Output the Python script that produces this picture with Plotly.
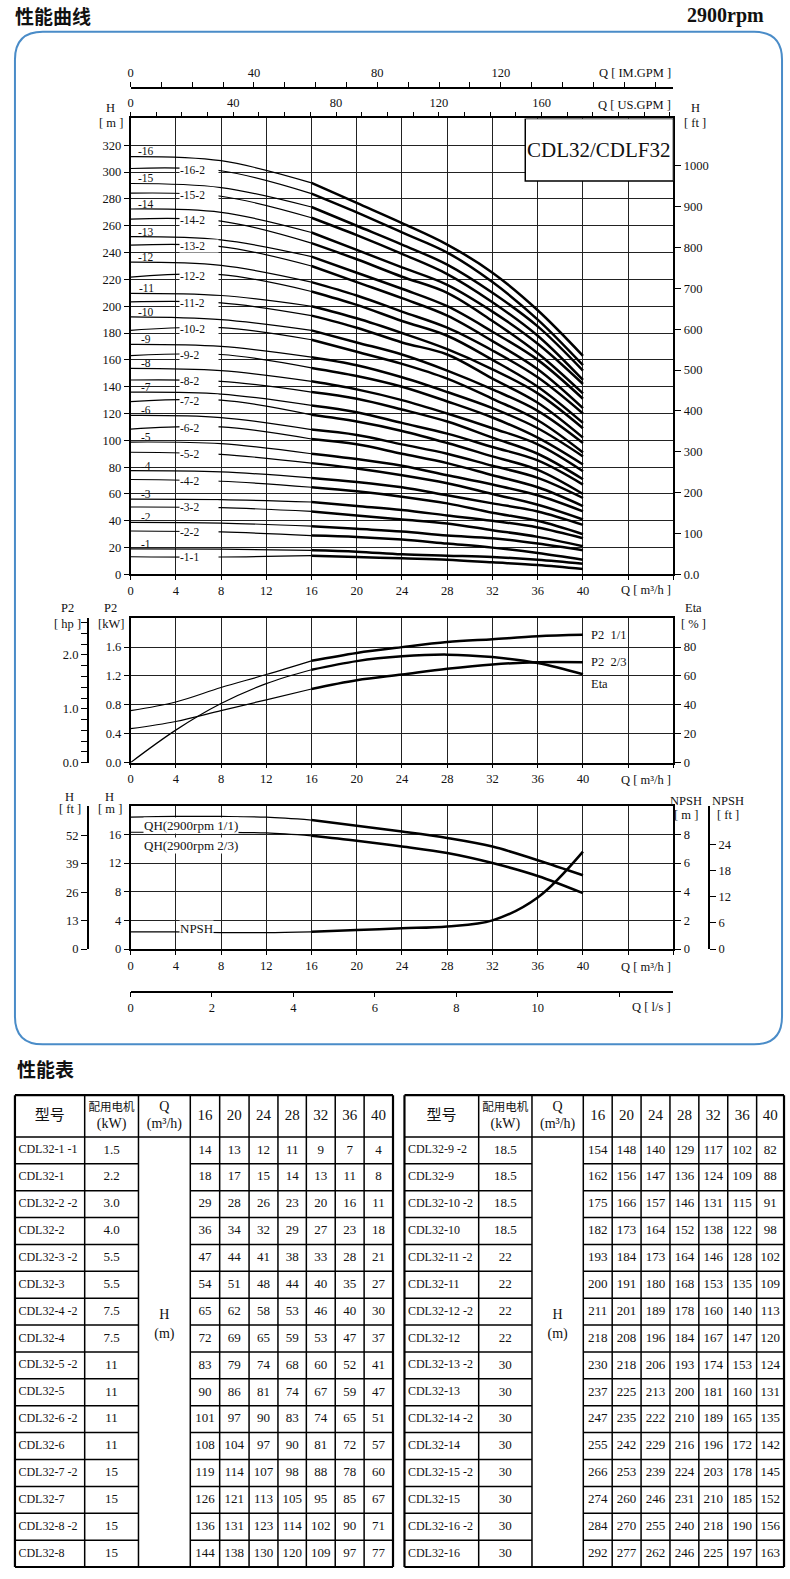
import plotly.graph_objects as go

# ---------------- data ----------------
Q_TABLE = [16, 20, 24, 28, 32, 36, 40]
Q_LOW = [0, 8, 16]

MODELS_1 = ["CDL32-1 -1", "CDL32-1", "CDL32-2 -2", "CDL32-2", "CDL32-3 -2", "CDL32-3",
            "CDL32-4 -2", "CDL32-4", "CDL32-5 -2", "CDL32-5", "CDL32-6 -2", "CDL32-6",
            "CDL32-7 -2", "CDL32-7", "CDL32-8 -2", "CDL32-8"]
MOTOR_1 = ["1.5", "2.2", "3.0", "4.0", "5.5", "5.5", "7.5", "7.5",
           "11", "11", "11", "11", "15", "15", "15", "15"]
HEAD_1 = [
    [14, 13, 12, 11, 9, 7, 4],
    [18, 17, 15, 14, 13, 11, 8],
    [29, 28, 26, 23, 20, 16, 11],
    [36, 34, 32, 29, 27, 23, 18],
    [47, 44, 41, 38, 33, 28, 21],
    [54, 51, 48, 44, 40, 35, 27],
    [65, 62, 58, 53, 46, 40, 30],
    [72, 69, 65, 59, 53, 47, 37],
    [83, 79, 74, 68, 60, 52, 41],
    [90, 86, 81, 74, 67, 59, 47],
    [101, 97, 90, 83, 74, 65, 51],
    [108, 104, 97, 90, 81, 72, 57],
    [119, 114, 107, 98, 88, 78, 60],
    [126, 121, 113, 105, 95, 85, 67],
    [136, 131, 123, 114, 102, 90, 71],
    [144, 138, 130, 120, 109, 97, 77],
]
MODELS_2 = ["CDL32-9 -2", "CDL32-9", "CDL32-10 -2", "CDL32-10", "CDL32-11 -2", "CDL32-11",
            "CDL32-12 -2", "CDL32-12", "CDL32-13 -2", "CDL32-13", "CDL32-14 -2", "CDL32-14",
            "CDL32-15 -2", "CDL32-15", "CDL32-16 -2", "CDL32-16"]
MOTOR_2 = ["18.5", "18.5", "18.5", "18.5", "22", "22", "22", "22",
           "30", "30", "30", "30", "30", "30", "30", "30"]
HEAD_2 = [
    [154, 148, 140, 129, 117, 102, 82],
    [162, 156, 147, 136, 124, 109, 88],
    [175, 166, 157, 146, 131, 115, 91],
    [182, 173, 164, 152, 138, 122, 98],
    [193, 184, 173, 164, 146, 128, 102],
    [200, 191, 180, 168, 153, 135, 109],
    [211, 201, 189, 178, 160, 140, 113],
    [218, 208, 196, 184, 167, 147, 120],
    [230, 218, 206, 193, 174, 153, 124],
    [237, 225, 213, 200, 181, 160, 131],
    [247, 235, 222, 210, 189, 165, 135],
    [255, 242, 229, 216, 196, 172, 142],
    [266, 253, 239, 224, 203, 178, 145],
    [274, 260, 246, 231, 210, 185, 152],
    [284, 270, 255, 240, 218, 190, 156],
    [292, 277, 262, 246, 225, 197, 163],
]

CURVE_LABELS = ["-1-1", "-1", "-2-2", "-2", "-3-2", "-3", "-4-2", "-4", "-5-2", "-5",
                "-6-2", "-6", "-7-2", "-7", "-8-2", "-8", "-9-2", "-9", "-10-2", "-10",
                "-11-2", "-11", "-12-2", "-12", "-13-2", "-13", "-14-2", "-14",
                "-15-2", "-15", "-16-2", "-16"]
H_SHUTOFF = [13.2, 19.1, 32.4, 38.8, 50.3, 56.2, 70.8, 77.4, 91.1, 98.7,
             108.4, 118.6, 128.9, 135.9, 145.0, 153.7, 163.1, 171.5, 182.0, 192.0,
             203.2, 209.6, 221.7, 232.9, 245.5, 251.9, 265.0, 272.5,
             284.3, 291.5, 302.7, 311.6]
H_AT8 = [13.0, 18.9, 31.7, 38.3, 49.8, 55.8, 69.5, 76.5, 89.5, 97.5,
         110.0, 117.0, 130.0, 134.5, 144.0, 152.0, 164.0, 170.0, 184.0, 190.0,
         202.5, 208.0, 223.5, 230.5, 244.5, 249.5, 263.5, 270.0,
         282.0, 288.5, 301.0, 308.5]

Q_CURVE = [0, 4, 8, 12, 16, 20, 24, 28, 32, 36, 40]
P2_FULL = [0.72, 0.84, 1.04, 1.22, 1.41, 1.52, 1.60, 1.67, 1.71, 1.75, 1.77]
P2_TWO_THIRDS = [0.47, 0.57, 0.72, 0.87, 1.02, 1.14, 1.22, 1.30, 1.36, 1.39, 1.39]
ETA = [0, 22.5, 40.9, 54.7, 64.3, 70.3, 73.6, 74.8, 73.1, 69.0, 61.2]

QH_FULL = [18.4, 18.5, 18.5, 18.4, 18.0, 17.2, 16.4, 15.5, 14.3, 12.4, 10.3]
QH_TWO_THIRDS = [16.3, 16.3, 16.3, 16.2, 15.8, 15.1, 14.3, 13.4, 12.0, 10.2, 7.8]
NPSH = [1.2, 1.2, 1.15, 1.15, 1.2, 1.33, 1.45, 1.58, 2.0, 3.6, 6.8]

IMGPM_PER_M3H = 3.666
USGPM_PER_M3H = 4.403
FT_PER_M = 3.2808
HP_PER_KW = 1.341
M3H_PER_LS = 3.6

# ---------------- layout helpers ----------------
W, H = 790, 1579


def fx(px):
    return px / W


def fy(py):
    return 1 - py / H


SERIF = "Liberation Serif"
CJK = "Noto Sans CJK SC"
INK = "#111111"
GRID = "#222222"
BLUE = "#4a8cc8"

X_L, X_R = 128, 673
XDOM = [fx(X_L), fx(X_R)]
Q_MAX = 48
H_MAX = 340
KW_MAX = 2.0
HB_MAX = 20

THIN, THICK = 1.2, 2.5

q_ticks = list(range(0, 41, 4))
q_minor = dict(tick0=0, dtick=4, showgrid=True, gridcolor=GRID, gridwidth=1.3,
               ticks="outside", ticklen=4, tickwidth=1.2, tickcolor="black")


def axis(**kw):
    d = dict(showline=True, linecolor="black", linewidth=1.5, ticks="outside", ticklen=5,
             tickwidth=1.2, tickcolor="black",
             tickfont=dict(family=SERIF, size=12.5, color=INK),
             showgrid=False, zeroline=False, fixedrange=True)
    d.update(kw)
    return d


def minor_ticks(step, length):
    return dict(tick0=0, dtick=step, ticks="outside", ticklen=length, tickwidth=1.2,
                tickcolor="black", showgrid=False)


fig = go.Figure()


def line_trace(x, y, xa, ya, width):
    fig.add_trace(go.Scatter(x=x, y=y, xaxis=xa, yaxis=ya, mode="lines",
                             line=dict(color="black", width=width, shape="spline"),
                             hoverinfo="skip", showlegend=False))


def text_trace(xs, ys, texts, size, family=SERIF, pos="middle center"):
    fig.add_trace(go.Scatter(x=xs, y=ys, text=texts, mode="text", textposition=pos,
                             xaxis="x7", yaxis="y10",
                             textfont=dict(family=family, size=size, color=INK),
                             hoverinfo="skip", showlegend=False, cliponaxis=False))


# ---------- top chart: H-Q family ----------
HEADS = HEAD_1 + HEAD_2
annotations = []
for i, lab in enumerate(CURVE_LABELS):
    hv = HEADS[i]
    line_trace(Q_LOW, [H_SHUTOFF[i], H_AT8[i], hv[0]], "x", "y", THIN)
    line_trace(Q_TABLE, hv, "x", "y", THICK)
    if lab.count("-") == 1:
        annotations.append(dict(text=lab, x=1.4, y=H_SHUTOFF[i] + 3.8, xref="x", yref="y",
                                showarrow=False, font=dict(family=SERIF, size=11.5, color=INK),
                                xanchor="center", yanchor="middle"))
    else:
        annotations.append(dict(text=lab, x=4.3, y=(H_SHUTOFF[i] + 2 * H_AT8[i]) / 3,
                                xref="x", yref="y", showarrow=False,
                                font=dict(family=SERIF, size=11.5, color=INK),
                                xanchor="left", yanchor="middle", align="left",
                                bgcolor="white", borderpad=0, width=38))

# ---------- middle chart ----------
line_trace(Q_CURVE[:5], P2_FULL[:5], "x4", "y3", THIN)
line_trace(Q_CURVE[4:], P2_FULL[4:], "x4", "y3", THICK)
line_trace(Q_CURVE[:5], P2_TWO_THIRDS[:5], "x4", "y3", THIN)
line_trace(Q_CURVE[4:], P2_TWO_THIRDS[4:], "x4", "y3", THICK)
line_trace(Q_CURVE[:5], ETA[:5], "x4", "y5", THIN)
line_trace(Q_CURVE[4:], ETA[4:], "x4", "y5", THICK)

# ---------- bottom chart ----------
line_trace(Q_CURVE[:5], QH_FULL[:5], "x5", "y6", THIN)
line_trace(Q_CURVE[4:], QH_FULL[4:], "x5", "y6", THICK)
line_trace(Q_CURVE[:5], QH_TWO_THIRDS[:5], "x5", "y6", THIN)
line_trace(Q_CURVE[4:], QH_TWO_THIRDS[4:], "x5", "y6", THICK)
line_trace(Q_CURVE[:5], NPSH[:5], "x5", "y8", THIN)
line_trace(Q_CURVE[4:], NPSH[4:], "x5", "y8", THICK)

# dummy traces so secondary axes render
for xa, ya in [("x2", "y"), ("x3", "y"), ("x", "y2"), ("x4", "y4"), ("x5", "y7"),
               ("x5", "y9"), ("x6", "y6")]:
    fig.add_trace(go.Scatter(x=[0], y=[0], xaxis=xa, yaxis=ya, mode="markers",
                             marker=dict(size=1, opacity=0), hoverinfo="skip",
                             showlegend=False))

# ---------- tables ----------
TABLE_TOP, HEAD_BOT, ROW_H = 1100, 1142, 27.0
COLS_1 = [12, 82, 136, 188, 217.5, 247, 276, 304.5, 333.5, 362.5, 391.5]
COLS_2 = [403, 477.5, 531, 582.5, 611.5, 640.5, 669.5, 698.5, 727.5, 756.5, 784]
shapes = []


def table(cols, models, motors, heads):
    n = len(models)
    bottom = HEAD_BOT + ROW_H * n
    for k, xv in enumerate(cols):
        w = 2.2 if k in (0, len(cols) - 1) else 1.5
        shapes.append(dict(type="line", xref="x7", yref="y10", x0=xv, x1=xv, y0=TABLE_TOP,
                           y1=bottom, line=dict(color="black", width=w)))
    for yv, w in [(TABLE_TOP, 2.2), (HEAD_BOT, 1.5), (bottom, 2.2)]:
        shapes.append(dict(type="line", xref="x7", yref="y10", x0=cols[0], x1=cols[-1],
                           y0=yv, y1=yv, line=dict(color="black", width=w)))
    for r in range(1, n):
        yv = HEAD_BOT + ROW_H * r
        for a, b in [(cols[0], cols[2]), (cols[3], cols[-1])]:
            shapes.append(dict(type="line", xref="x7", yref="y10", x0=a, x1=b, y0=yv, y1=yv,
                               line=dict(color="black", width=1.5)))
    hy = (TABLE_TOP + HEAD_BOT) / 2
    cen = [(cols[k] + cols[k + 1]) / 2 for k in range(len(cols) - 1)]
    # header
    text_trace([cen[0]], [hy], ["型号"], 15, family=CJK)
    text_trace([cen[1]], [hy - 8], ["配用电机"], 11.5, family=CJK)
    text_trace([cen[1], cen[2], cen[2]], [hy + 8.5, hy - 8.5, hy + 8.5],
               ["(kW)", "Q", "(m³/h)"], 14)
    text_trace(cen[3:], [hy] * len(Q_TABLE), [str(q) for q in Q_TABLE], 15)
    # merged H column
    text_trace([cen[2], cen[2]], [1321, 1340], ["H", "(m)"], 14)
    ys = [HEAD_BOT + ROW_H * (r + 0.5) for r in range(n)]
    text_trace([cols[0] + 3.5] * n, ys, models, 12, pos="middle right")
    xs, yv, tv = [], [], []
    for r in range(n):
        xs.append(cen[1]); yv.append(ys[r]); tv.append(motors[r])
        for c, v in enumerate(heads[r]):
            xs.append(cen[3 + c]); yv.append(ys[r]); tv.append(str(v))
    text_trace(xs, yv, tv, 13)


table(COLS_1, MODELS_1, MOTOR_1, HEAD_1)
table(COLS_2, MODELS_2, MOTOR_2, HEAD_2)

# ---------- decorations ----------


def rrect_path(x0, y0, x1, y1, r):
    return (f"M {fx(x0 + r)},{fy(y0)} L {fx(x1 - r)},{fy(y0)} "
            f"Q {fx(x1)},{fy(y0)} {fx(x1)},{fy(y0 + r)} L {fx(x1)},{fy(y1 - r)} "
            f"Q {fx(x1)},{fy(y1)} {fx(x1 - r)},{fy(y1)} L {fx(x0 + r)},{fy(y1)} "
            f"Q {fx(x0)},{fy(y1)} {fx(x0)},{fy(y1 - r)} L {fx(x0)},{fy(y0 + r)} "
            f"Q {fx(x0)},{fy(y0)} {fx(x0 + r)},{fy(y0)} Z")


shapes.append(dict(type="path", xref="paper", yref="paper", path=rrect_path(12, 32, 782, 1049, 28),
                   line=dict(color=BLUE, width=2), layer="below"))
# model box in top-right of the H-Q chart
shapes.append(dict(type="rect", xref="x", yref="y", x0=34.9, x1=Q_MAX, y0=293.3, y1=H_MAX,
                   fillcolor="white", line=dict(color="black", width=1.5), layer="above"))
annotations.append(dict(text="CDL32/CDLF32", x=41.45, y=316.5, xref="x", yref="y", showarrow=False,
                        font=dict(family=SERIF, size=21, color=INK)))


def pnote(text, px, py, size=12.5, xanchor="center", family=SERIF, bold=False):
    annotations.append(dict(text=text, x=fx(px), y=fy(py), xref="paper", yref="paper",
                            showarrow=False, xanchor=xanchor, yanchor="middle",
                            font=dict(family=family, size=size, color=INK,
                                      weight="bold" if bold else "normal")))


pnote("性能曲线", 10, 16, size=19, xanchor="left", family=CJK, bold=True)
pnote("2900rpm", 766, 16, size=20, xanchor="right", bold=True)
pnote("性能表", 12, 1073, size=19, xanchor="left", family=CJK, bold=True)

pnote("Q [ IM.GPM ]", 673, 73, xanchor="right")
pnote("Q [ US.GPM ]", 673, 105, xanchor="right")
pnote("H", 108, 108)
pnote("[ m ]", 108, 124)
pnote("H", 695, 108)
pnote("[ ft ]", 695, 124)
pnote("Q [ m³/h ]", 673, 593, xanchor="right")
pnote("Q [ m³/h ]", 673, 783, xanchor="right")
pnote("Q [ m³/h ]", 673, 971, xanchor="right")
pnote("Q [ l/s ]", 673, 1011, xanchor="right")
pnote("P2", 65, 611)
pnote("[ hp ]", 65, 627)
pnote("P2", 108, 611)
pnote("[kW]", 108, 627)
pnote("Eta", 693, 611)
pnote("[ % ]", 693, 627)
pnote("H", 67, 801)
pnote("[ ft ]", 67, 813)
pnote("H", 107, 801)
pnote("[ m ]", 107, 813)
pnote("NPSH", 686, 805)
pnote("[ m ]", 686, 819)
pnote("NPSH", 728, 805)
pnote("[ ft ]", 728, 819)

for txt, yy in [("P2  1/1", P2_FULL[-1]), ("P2  2/3", P2_TWO_THIRDS[-1]), ("Eta", 1.09)]:
    annotations.append(dict(text=txt, x=40.5, y=yy, xref="x4", yref="y3", showarrow=False,
                            xanchor="left", yanchor="middle",
                            font=dict(family=SERIF, size=12.5, color=INK)))
for txt, xx, yy, ya in [("QH(2900rpm 1/1)", 5.33, 17.3, "y6"), ("QH(2900rpm 2/3)", 5.33, 14.5, "y6"),
                        ("NPSH", 5.86, 2.94, "y6")]:
    annotations.append(dict(text=txt, x=xx, y=yy, xref="x5", yref=ya, showarrow=False,
                            xanchor="center", yanchor="middle", bgcolor="white", borderpad=0,
                            font=dict(family=SERIF, size=13, color=INK)))

# ---------- axes ----------
im_max = Q_MAX * IMGPM_PER_M3H
us_max = Q_MAX * USGPM_PER_M3H
hp_max = KW_MAX * HP_PER_KW


def q_axis(anchor):
    return axis(domain=XDOM, range=[0, Q_MAX], anchor=anchor, tickvals=q_ticks,
                showgrid=True, gridcolor=GRID, gridwidth=1.3, mirror=True, ticklen=4,
                minor=q_minor)


layout = dict(
    width=W, height=H, margin=dict(l=0, r=0, t=0, b=0), autosize=False,
    paper_bgcolor="white", plot_bgcolor="rgba(0,0,0,0)", showlegend=False,
    shapes=shapes, annotations=annotations,
    # top chart
    xaxis=q_axis("y"),
    yaxis=axis(domain=[fy(577), fy(119)], range=[0, H_MAX], anchor="x",
               tickvals=list(range(0, 321, 20)), showgrid=True, gridcolor=GRID, gridwidth=1.3,
               mirror=True),
    yaxis2=axis(overlaying="y", side="right", anchor="x", range=[0, H_MAX * FT_PER_M],
                tickvals=list(range(0, 1001, 100)),
                ticktext=["0.0"] + [str(v) for v in range(100, 1001, 100)], ticklen=6),
    xaxis2=axis(overlaying="x", side="top", anchor="free", position=fy(88), range=[0, im_max],
                tickvals=[0, 40, 80, 120], ticklen=5, minor=minor_ticks(10, 5)),
    xaxis3=axis(overlaying="x", side="top", anchor="y", range=[0, us_max],
                tickvals=[0, 40, 80, 120, 160], ticklen=5, minor=minor_ticks(10, 5)),
    # middle chart
    xaxis4=q_axis("y3"),
    yaxis3=axis(domain=[fy(766), fy(621)], range=[0, KW_MAX], anchor="x4",
                tickvals=[0, 0.4, 0.8, 1.2, 1.6], ticktext=["0.0", "0.4", "0.8", "1.2", "1.6"],
                showgrid=True, gridcolor=GRID, gridwidth=1.3, mirror=True),
    yaxis4=axis(overlaying="y3", side="left", anchor="free", position=fx(85), range=[0, hp_max],
                tickvals=[0, 1, 2], ticktext=["0.0", "1.0", "2.0"], ticklen=6,
                minor=minor_ticks(0.2, 6)),
    yaxis5=axis(overlaying="y3", side="right", anchor="x4", range=[0, 100],
                tickvals=[0, 20, 40, 60, 80], ticklen=6),
    # bottom chart
    xaxis5=q_axis("y6"),
    yaxis6=axis(domain=[fy(953.3), fy(809.3)], range=[0, HB_MAX], anchor="x5",
                tickvals=[0, 4, 8, 12, 16], showgrid=True, gridcolor=GRID, gridwidth=1.3,
                mirror=True),
    yaxis7=axis(overlaying="y6", side="left", anchor="free", position=fx(85),
                range=[0, HB_MAX * FT_PER_M], tickvals=[0, 13, 26, 39, 52], ticklen=6),
    yaxis8=axis(overlaying="y6", side="right", anchor="x5", range=[0, HB_MAX / 2],
                tickvals=[0, 2, 4, 6, 8], ticklen=6),
    yaxis9=axis(overlaying="y6", side="right", anchor="free", position=fx(709),
                range=[0, HB_MAX / 2 * FT_PER_M], tickvals=[0, 6, 12, 18, 24], ticklen=6),
    xaxis6=axis(overlaying="x5", side="bottom", anchor="free", position=fy(996),
                range=[0, Q_MAX / M3H_PER_LS], tickvals=[0, 2, 4, 6, 8, 10], ticklen=5,
                minor=minor_ticks(2, 5)),
    # table canvas
    xaxis7=dict(domain=[0, 1], range=[0, W], anchor="y10", visible=False, fixedrange=True),
    yaxis10=dict(domain=[0, fy(1090)], range=[H, 1090], anchor="x7", visible=False,
                 fixedrange=True),
)
fig.update_layout(**layout)
fig.write_html("out.html")
